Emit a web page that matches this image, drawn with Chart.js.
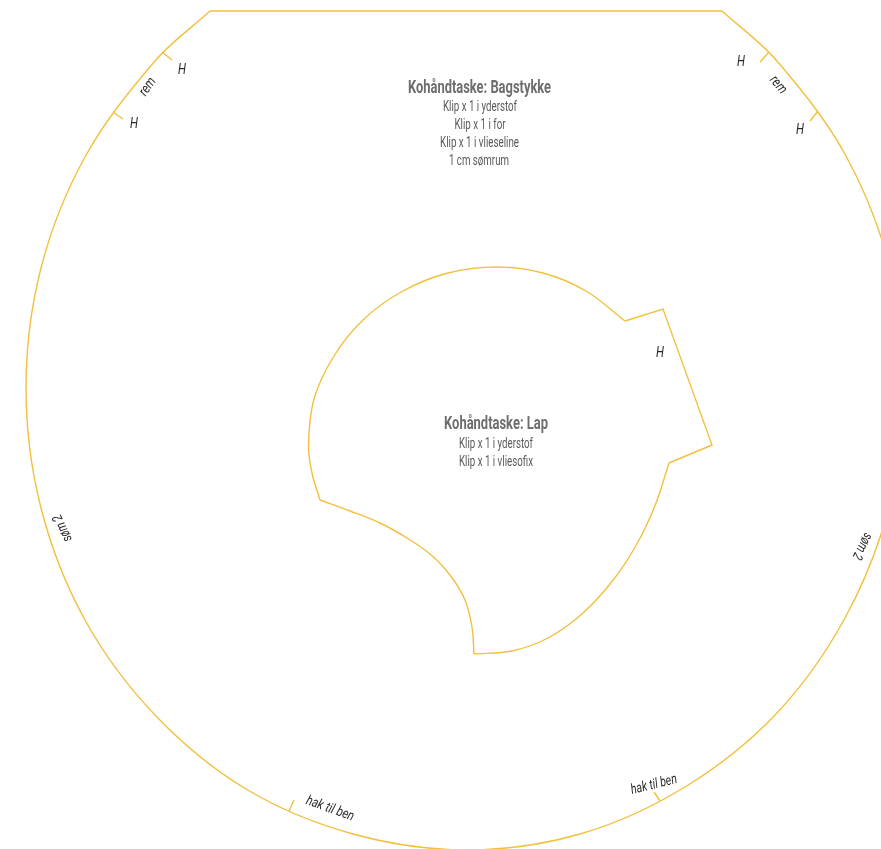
<!DOCTYPE html>
<html><head><meta charset="utf-8">
<style>html,body{margin:0;padding:0;background:#fff}canvas{display:block}</style>
<script src="https://cdn.jsdelivr.net/npm/chart.js@4"></script>
</head><body><canvas id="c" width="881" height="849"></canvas>
<script>
const topEdge=[[210,11],[722,11]];
const outerArc=[[210,11],[155,61],[85,157],[41,268],[26,388],[41,508],[85,620],[155,715],[246,789],[353,834],[467,850],[580,834],[685,787],[776,714],[845,618],[889,507],[905,388],[890,268],[846,156],[777,61],[722,11]];
const innerTop=[[320,500],[312,473],[308.5,445],[314,399],[334,356],[364,319],[403,291],[448,273],[497,267],[543,273],[586,291],[625,321]];
const innerTab=[[625,321],[663,309],[712,445],[669,463]];
const innerRight=[[669,463],[656,503],[638,542],[614,579],[583,613],[548,638],[512,651],[474,654]];
const innerBottom=[[474,654],[472,627],[465,600],[450,575],[430,554],[407,538],[380,523],[350,511],[320,500]];
const notches=[[[162,52],[172,60]],[[113,112],[123,119]],[[769,52],[760,62]],[[818,111],[810,121]],[[289,811],[294,800]],[[660,801],[654,792]]];
const titles=[["Kohåndtaske: Bagstykke",479.5,88,143],["Kohåndtaske: Lap",496,424,104]];
const bodyLines=[["Klip x 1 i yderstof",480,107,74],["Klip x 1 i for",480,125,51],["Klip x 1 i vlieseline",479.5,143,79],["1 cm sømrum",479,161,60],["Klip x 1 i yderstof",496,444,74],["Klip x 1 i vliesofix",496,462,74]];
const marks=[["H",182,70,0,8],["H",134,124,0,8],["H",741,62,0,8],["H",800,130,0,8],["H",660,353,0,8],["rem",148,87,-55,19],["rem",778,85,50,19],["hak til ben",330,809,20,50],["hak til ben",654,785,-14,47],["søm 2",63,528,-115,28],["søm 2",862,546,117,28]];
const lineColor="#F2C03E";
const pts=a=>a.map(p=>({x:p[0],y:p[1]}));
const curve=a=>({data:pts(a),borderColor:lineColor,borderWidth:1.4,pointRadius:0,showLine:true,tension:0.34,capBezierPoints:false,fill:false});
const straight=a=>({data:pts(a),borderColor:lineColor,borderWidth:1.4,pointRadius:0,showLine:true,tension:0,fill:false,borderJoinStyle:"miter"});
function put(ctx,chart,t,font,color,rot){
  const x=chart.scales.x.getPixelForValue(t[1]),y=chart.scales.y.getPixelForValue(t[2]);
  ctx.save();ctx.font=font;ctx.fillStyle=color;ctx.textAlign="center";ctx.textBaseline="middle";
  const w=ctx.measureText(t[0]).width,target=rot!==undefined?t[4]:t[3];
  ctx.translate(x,y);if(rot)ctx.rotate(rot*Math.PI/180);ctx.scale(target/w,1);ctx.fillText(t[0],0,0);ctx.restore();
}
const labelPlugin={id:"labels",afterDatasetsDraw(chart){
  const ctx=chart.ctx;
  titles.forEach(t=>put(ctx,chart,t,'bold 18px "Roboto"',"#6e6e6e"));
  bodyLines.forEach(t=>put(ctx,chart,t,'14px "Roboto"',"#5a5a5a"));
  marks.forEach(t=>put(ctx,chart,t,'italic 14px "Roboto"',"#2a2a2a",t[3]));
}};
new Chart(document.getElementById("c"),{type:"scatter",
 data:{datasets:[straight(topEdge),curve(outerArc),curve(innerTop),straight(innerTab),curve(innerRight),curve(innerBottom),...notches.map(straight)]},
 options:{responsive:false,animation:false,devicePixelRatio:1,layout:{padding:0},
  plugins:{legend:{display:false},tooltip:{enabled:false},title:{display:false}},
  scales:{x:{type:"linear",min:0,max:881,display:false},y:{type:"linear",min:0,max:849,reverse:true,display:false}}},
 plugins:[labelPlugin]});
</script></body></html>
